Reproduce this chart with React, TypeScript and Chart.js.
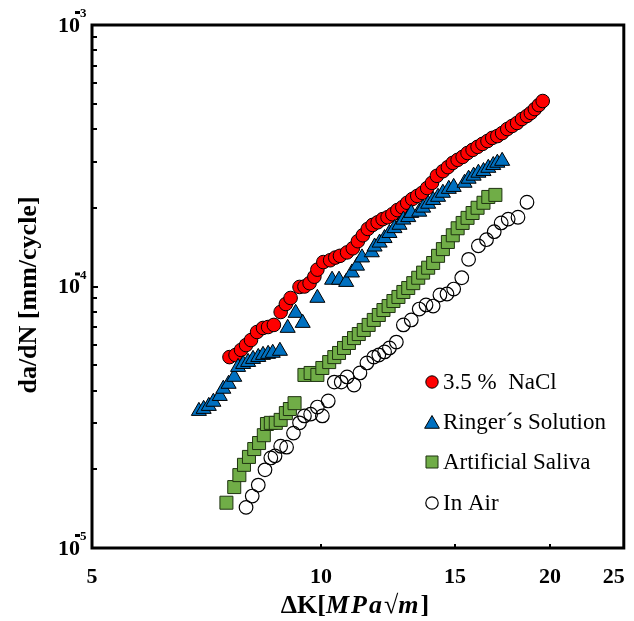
import React, { useEffect, useRef } from 'react';
import { Chart, registerables } from 'chart.js';

Chart.register(...registerables);

// ---- Data (ΔK in MPa√m, da/dN in mm/cycle) ----
const naclDK = [7.58, 7.72, 7.85, 7.97, 8.09, 8.24, 8.39, 8.52, 8.67, 8.85, 8.99, 9.12, 9.37, 9.51, 9.66, 9.80, 9.89, 10.07, 10.28, 10.44, 10.59, 10.82, 11.01, 11.18, 11.35, 11.52, 11.69, 11.87, 12.05, 12.23, 12.41, 12.60, 12.79, 12.98, 13.18, 13.38, 13.58, 13.79, 13.99, 14.20, 14.46, 14.68, 14.90, 15.12, 15.35, 15.58, 15.82, 16.06, 16.30, 16.55, 16.79, 17.05, 17.30, 17.57, 17.83, 18.10, 18.37, 18.65, 18.87, 19.10, 19.33, 19.56];
const naclRate = [5.37e-5, 5.47e-5, 5.72e-5, 5.97e-5, 6.24e-5, 6.70e-5, 6.94e-5, 7.00e-5, 7.13e-5, 7.99e-5, 8.57e-5, 9.04e-5, 9.96e-5, 1.00e-4, 1.03e-4, 1.09e-4, 1.16e-4, 1.24e-4, 1.26e-4, 1.29e-4, 1.31e-4, 1.35e-4, 1.40e-4, 1.49e-4, 1.57e-4, 1.66e-4, 1.72e-4, 1.76e-4, 1.81e-4, 1.84e-4, 1.89e-4, 1.96e-4, 2.01e-4, 2.09e-4, 2.16e-4, 2.22e-4, 2.28e-4, 2.38e-4, 2.49e-4, 2.65e-4, 2.76e-4, 2.86e-4, 2.97e-4, 3.05e-4, 3.13e-4, 3.24e-4, 3.33e-4, 3.42e-4, 3.51e-4, 3.60e-4, 3.70e-4, 3.76e-4, 3.86e-4, 4.00e-4, 4.11e-4, 4.22e-4, 4.37e-4, 4.49e-4, 4.61e-4, 4.77e-4, 4.94e-4, 5.12e-4];

const ringerDK = [6.91, 7.01, 7.12, 7.22, 7.36, 7.44, 7.56, 7.69, 7.78, 7.90, 8.02, 8.14, 8.27, 8.39, 8.52, 8.64, 8.83, 9.04, 9.26, 9.46, 9.89, 10.34, 10.56, 10.79, 10.98, 11.15, 11.32, 11.66, 11.76, 11.94, 12.12, 12.30, 12.49, 12.68, 12.83, 13.02, 13.14, 13.46, 13.62, 13.83, 14.04, 14.25, 14.46, 14.72, 14.94, 15.44, 15.63, 15.87, 16.10, 16.35, 16.59, 16.84, 17.05, 17.30];
const ringerRate = [3.34e-5, 3.40e-5, 3.49e-5, 3.62e-5, 3.81e-5, 4.06e-5, 4.24e-5, 4.51e-5, 4.92e-5, 5.05e-5, 5.14e-5, 5.28e-5, 5.37e-5, 5.47e-5, 5.52e-5, 5.57e-5, 5.67e-5, 6.94e-5, 7.92e-5, 7.25e-5, 9.04e-5, 1.06e-4, 1.06e-4, 1.04e-4, 1.13e-4, 1.20e-4, 1.29e-4, 1.35e-4, 1.42e-4, 1.47e-4, 1.53e-4, 1.60e-4, 1.67e-4, 1.72e-4, 1.80e-4, 1.84e-4, 1.91e-4, 1.93e-4, 2.00e-4, 2.07e-4, 2.14e-4, 2.20e-4, 2.28e-4, 2.36e-4, 2.40e-4, 2.49e-4, 2.58e-4, 2.65e-4, 2.72e-4, 2.76e-4, 2.84e-4, 2.91e-4, 2.97e-4, 3.02e-4];

const salivaDK = [7.51, 7.69, 7.81, 7.92, 8.04, 8.17, 8.29, 8.41, 8.49, 8.59, 8.72, 8.85, 8.99, 9.10, 9.23, 9.51, 9.69, 9.89, 10.04, 10.25, 10.41, 10.56, 10.72, 10.88, 11.05, 11.21, 11.38, 11.55, 11.73, 11.91, 12.08, 12.27, 12.45, 12.64, 12.83, 13.02, 13.22, 13.42, 13.62, 13.83, 14.04, 14.25, 14.46, 14.68, 14.90, 15.12, 15.35, 15.58, 15.82, 16.06, 16.35, 16.59, 16.95];
const salivaRate = [1.49e-5, 1.71e-5, 1.90e-5, 2.08e-5, 2.23e-5, 2.39e-5, 2.52e-5, 2.70e-5, 2.98e-5, 3.01e-5, 3.01e-5, 3.09e-5, 3.28e-5, 3.40e-5, 3.58e-5, 4.59e-5, 4.67e-5, 4.59e-5, 4.88e-5, 5.14e-5, 5.37e-5, 5.57e-5, 5.82e-5, 6.08e-5, 6.35e-5, 6.58e-5, 6.82e-5, 7.13e-5, 7.45e-5, 7.78e-5, 8.13e-5, 8.42e-5, 8.80e-5, 9.12e-5, 9.53e-5, 9.87e-5, 1.03e-4, 1.08e-4, 1.13e-4, 1.18e-4, 1.23e-4, 1.31e-4, 1.39e-4, 1.48e-4, 1.57e-4, 1.67e-4, 1.75e-4, 1.83e-4, 1.91e-4, 2.00e-4, 2.09e-4, 2.20e-4, 2.24e-4];

const airDK = [7.97, 8.12, 8.27, 8.44, 8.59, 8.70, 8.85, 9.01, 9.20, 9.37, 9.51, 9.69, 9.89, 10.04, 10.22, 10.41, 10.63, 10.82, 11.05, 11.25, 11.49, 11.73, 11.91, 12.12, 12.30, 12.56, 12.83, 13.14, 13.46, 13.74, 14.04, 14.33, 14.64, 14.94, 15.31, 15.63, 16.10, 16.50, 16.89, 17.25, 17.62, 18.15, 18.65];
const airRate = [1.43e-5, 1.58e-5, 1.74e-5, 1.99e-5, 2.21e-5, 2.25e-5, 2.45e-5, 2.43e-5, 2.75e-5, 3.01e-5, 3.20e-5, 3.25e-5, 3.46e-5, 3.20e-5, 3.65e-5, 4.31e-5, 4.31e-5, 4.51e-5, 4.20e-5, 4.67e-5, 5.10e-5, 5.37e-5, 5.47e-5, 5.62e-5, 5.82e-5, 6.13e-5, 7.13e-5, 7.45e-5, 8.20e-5, 8.50e-5, 8.42e-5, 9.28e-5, 9.36e-5, 9.78e-5, 1.08e-4, 1.27e-4, 1.43e-4, 1.51e-4, 1.62e-4, 1.75e-4, 1.81e-4, 1.84e-4, 2.10e-4];

const seriesLabels = ['3.5 %  NaCl', 'Ringer\u00B4s Solution', 'Artificial Saliva', 'In Air'];
const xTickValues = [5, 10, 15, 20, 25];
const yTickExponents = [-5, -4, -3];
const xTitleParts = [
  { t: '\u0394K[', italic: false },
  { t: 'MPa', italic: true },
  { t: '\u221A', italic: false },
  { t: 'm', italic: true },
  { t: ']', italic: false },
];
const yTitle = 'da/dN [mm/cycle]';

const SERIF = '"Liberation Serif", "Times New Roman", serif';

const zip = (xs: number[], ys: number[]) => xs.map((x, i) => ({ x, y: ys[i] }));

const styles = [
  { shape: 'circle', fill: '#FF0000', stroke: '#000000', r: 6.8, bw: 1 },
  { shape: 'triangle', fill: '#0070C0', stroke: '#000000', r: 8.7, bw: 1 },
  { shape: 'rect', fill: '#70AD47', stroke: '#1F3311', r: 9.2, bw: 1 },
  { shape: 'circle', fill: 'rgba(255,255,255,0)', stroke: '#000000', r: 6.8, bw: 1.2 },
];

function drawMarker(ctx: CanvasRenderingContext2D, s: any, x: number, y: number) {
  ctx.save();
  ctx.beginPath();
  if (s.shape === 'circle') {
    ctx.arc(x, y, s.r, 0, Math.PI * 2);
  } else if (s.shape === 'triangle') {
    const r = s.r;
    ctx.moveTo(x, y - r);
    ctx.lineTo(x + Math.sin((2 * Math.PI) / 3) * r, y + r / 2);
    ctx.lineTo(x - Math.sin((2 * Math.PI) / 3) * r, y + r / 2);
    ctx.closePath();
  } else {
    const h = Math.SQRT1_2 * s.r;
    ctx.rect(x - h, y - h, 2 * h, 2 * h);
  }
  ctx.fillStyle = s.fill;
  ctx.fill();
  ctx.lineWidth = s.bw;
  ctx.strokeStyle = s.stroke;
  ctx.stroke();
  ctx.restore();
}

const decorPlugin = {
  id: 'decor',
  beforeDatasetsDraw(chart: any) {
    const { ctx, chartArea: a } = chart;
    const ys = chart.scales.y;
    const xs = chart.scales.x;
    ctx.save();
    ctx.strokeStyle = '#000';
    ctx.lineWidth = 2;
    for (let e = -5; e < -3; e++) {
      for (let m = 1; m <= 9; m++) {
        if (e === -5 && m === 1) continue;
        const py = Math.round(ys.getPixelForValue(m * Math.pow(10, e)));
        ctx.beginPath();
        ctx.moveTo(a.left, py);
        ctx.lineTo(a.left + (m === 1 ? 6 : 5), py);
        ctx.stroke();
      }
    }
    for (const v of xTickValues.slice(1, -1)) {
      const px = Math.round(xs.getPixelForValue(v));
      ctx.beginPath();
      ctx.moveTo(px, a.bottom);
      ctx.lineTo(px, a.bottom - 4);
      ctx.stroke();
    }
    ctx.lineWidth = 3;
    ctx.strokeRect(a.left, a.top, a.right - a.left, a.bottom - a.top);
    ctx.restore();
  },
  afterDatasetsDraw(chart: any) {
    const { ctx, chartArea: a } = chart;
    const ys = chart.scales.y;
    const xs = chart.scales.x;
    ctx.save();
    ctx.fillStyle = '#000';

    // y tick labels 10^e
    for (const e of yTickExponents) {
      const py = ys.getPixelForValue(Math.pow(10, e));
      ctx.font = `bold 22px ${SERIF}`;
      ctx.textAlign = 'right';
      ctx.textBaseline = 'middle';
      ctx.fillText('10', 80, py + 1);
      ctx.fillRect(75, py - 14, 5, 3);
      ctx.textAlign = 'left';
      ctx.font = `bold 13px ${SERIF}`;
      ctx.fillText(String(-e), 80, py - 11);
    }

    // x tick labels
    ctx.font = `bold 22px ${SERIF}`;
    ctx.textAlign = 'center';
    ctx.textBaseline = 'middle';
    for (const v of xTickValues) {
      let px = xs.getPixelForValue(v);
      if (v === xTickValues[xTickValues.length - 1]) px -= 10;
      ctx.fillText(String(v), px, 577);
    }

    // x title
    const fontFor = (it: boolean) => `${it ? 'italic ' : ''}bold 26px ${SERIF}`;
    const gap = 2;
    let total = 0;
    for (const p of xTitleParts) {
      ctx.font = fontFor(p.italic);
      for (const ch of p.t) total += ctx.measureText(ch).width + (p.italic ? gap : 0);
    }
    let cx = (a.left + a.right) / 2 - total / 2 - 3;
    ctx.textAlign = 'left';
    for (const p of xTitleParts) {
      ctx.font = fontFor(p.italic);
      for (const ch of p.t) {
        ctx.fillText(ch, cx, 606);
        cx += ctx.measureText(ch).width + (p.italic ? gap : 0);
      }
    }

    // y title
    ctx.save();
    ctx.translate(29, 295);
    ctx.rotate(-Math.PI / 2);
    ctx.font = `bold 26px ${SERIF}`;
    ctx.textAlign = 'center';
    ctx.textBaseline = 'middle';
    ctx.fillText(yTitle, 0, 0);
    ctx.restore();

    // legend
    const lx = 432;
    const ly = [382, 422, 462, 503];
    ctx.font = `23px ${SERIF}`;
    ctx.textAlign = 'left';
    ctx.textBaseline = 'middle';
    seriesLabels.forEach((lab, i) => {
      const s = { ...styles[i], r: i === 1 ? 8.5 : i === 2 ? 8.5 : 6.2 };
      drawMarker(ctx, s, lx, ly[i] + (i === 1 ? 2 : 0));
      ctx.fillStyle = '#000';
      ctx.fillText(lab, 443, ly[i] + 1);
    });
    ctx.restore();
  },
};

export default function App() {
  const ref = useRef<HTMLCanvasElement | null>(null);
  useEffect(() => {
    if (!ref.current) return;
    const sets = [
      zip(naclDK, naclRate),
      zip(ringerDK, ringerRate),
      zip(salivaDK, salivaRate),
      zip(airDK, airRate),
    ];
    const orders = [2, 1, 0, 0];
    const chart = new Chart(ref.current, {
      type: 'scatter',
      data: {
        datasets: sets.map((d, i) => ({
          label: seriesLabels[i],
          data: d,
          order: orders[i],
          pointStyle: styles[i].shape,
          pointRadius: styles[i].r,
          pointHoverRadius: styles[i].r,
          backgroundColor: styles[i].fill,
          borderColor: styles[i].stroke,
          pointBorderWidth: styles[i].bw,
          showLine: false,
        })),
      },
      options: {
        animation: false,
        responsive: false,
        devicePixelRatio: 1,
        layout: { padding: { left: 92, top: 25, right: 4, bottom: 73 } },
        plugins: { legend: { display: false }, tooltip: { enabled: false } },
        events: [],
        scales: {
          x: { type: 'logarithmic', min: 5, max: 25, display: false },
          y: { type: 'logarithmic', min: 1e-5, max: 1e-3, display: false },
        },
      },
      plugins: [decorPlugin],
    } as any);
    return () => chart.destroy();
  }, []);
  return (
    <div style={{ position: 'absolute', left: 0, top: 0, width: 634, height: 621, background: '#fff' }}>
      <canvas ref={ref} width={634} height={621} style={{ display: 'block' }} />
    </div>
  );
}
